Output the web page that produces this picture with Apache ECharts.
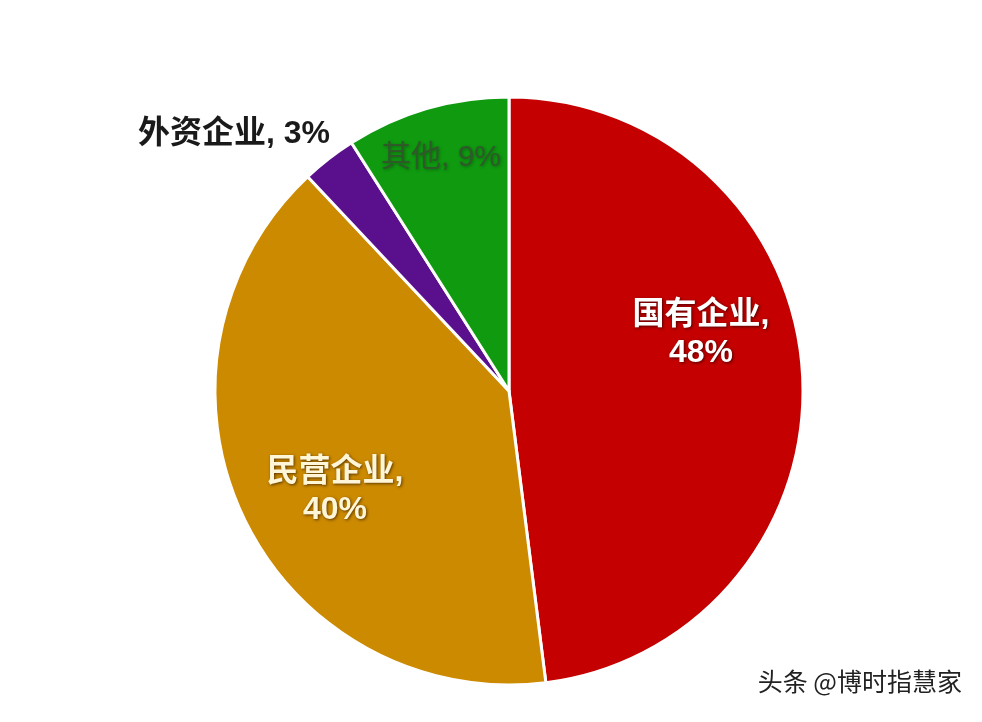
<!DOCTYPE html>
<html>
<head>
<meta charset="utf-8">
<style>
  html, body { margin: 0; padding: 0; background: #ffffff; }
  #chart { width: 982px; height: 722px; }
</style>
<script src="https://cdn.jsdelivr.net/npm/echarts@6/dist/echarts.min.js"></script>
</head>
<body>
<div id="chart"></div>
<script>
// ---- data ----
const categories = ['国有企业', '民营企业', '外资企业', '其他'];
const shares = [48, 40, 3, 9];           // percent
const twoLineLabel = [true, true, false, false];

// ---- styles (kept apart from data) ----
const sliceColors = ['#C40000', '#CC8A00', '#5A108C', '#109A10'];
const labelColors = ['#ffffff', '#FFF6D8', '#1a1a1a', '#2E5A2A'];
const labelSizes = [32, 32, 32, 30];
const labelWeights = ['bold', 'bold', 'bold', 'normal'];
const labelShadow = ['rgba(60,0,0,0.85)', 'rgba(70,40,0,0.85)', 'rgba(0,0,0,0)', 'rgba(0,40,0,0.4)'];
const labelPos = [[701, 334], [335, 491], [234, 134], [441, 158]];

const chart = echarts.init(document.getElementById('chart'), null, { renderer: 'canvas' });

const data = categories.map((name, i) => ({
  name: name,
  value: shares[i],
  itemStyle: { color: sliceColors[i] },
  label: {
    color: labelColors[i],
    fontSize: labelSizes[i],
    fontWeight: labelWeights[i],
    lineHeight: Math.round(labelSizes[i] * 1.2),
    textShadowColor: labelShadow[i],
    textShadowBlur: 3,
    textShadowOffsetX: 1,
    textShadowOffsetY: 1
  }
}));

chart.setOption({
  backgroundColor: '#ffffff',
  animation: false,
  series: [{
    type: 'pie',
    center: [509, 391],
    radius: [0, 294],
    startAngle: 90,
    clockwise: true,
    avoidLabelOverlap: false,
    itemStyle: { borderColor: '#ffffff', borderWidth: 3 },
    label: {
      show: true,
      position: 'inside',
      fontFamily: '"Liberation Sans", "Noto Sans CJK SC", sans-serif',
      formatter: (p) => twoLineLabel[p.dataIndex]
        ? p.name + ',\n' + p.value + '%'
        : p.name + ', ' + p.value + '%'
    },
    labelLine: { show: false },
    labelLayout: (p) => ({
      x: labelPos[p.dataIndex][0],
      y: labelPos[p.dataIndex][1],
      align: 'center',
      verticalAlign: 'middle'
    }),
    emphasis: { disabled: true },
    data: data
  }],
  graphic: [{
    type: 'text',
    right: 20,
    top: 669,
    style: {
      text: '头条 @博时指慧家',
      fill: '#222222',
      fontSize: 25,
      fontFamily: '"Noto Sans CJK SC", sans-serif'
    }
  }]
});
</script>
</body>
</html>
